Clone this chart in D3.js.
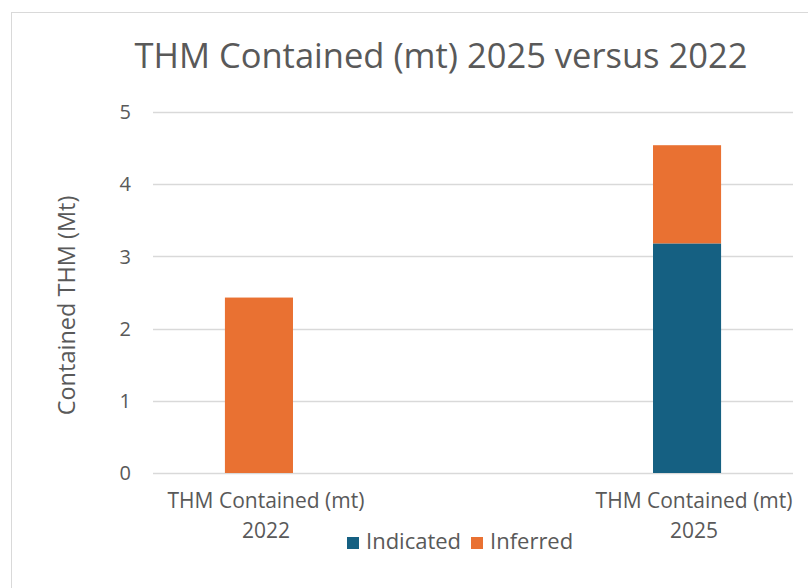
<!DOCTYPE html>
<html>
<head>
<meta charset="utf-8">
<script src="https://cdn.jsdelivr.net/npm/d3@7"></script>
<style>
  body { margin: 0; background: #fff; }
  text { font-family: "Open Sans", "Noto Sans", sans-serif; fill: #595959; }
</style>
</head>
<body>
<div id="chart"></div>
<script>
// data
const categories = ["THM Contained (mt) 2022", "THM Contained (mt) 2025"];
const seriesNames = ["Indicated", "Inferred"];
const indicated = [0, 3.18];
const inferred = [2.43, 1.36];
const yTicks = [0, 1, 2, 3, 4, 5];
const colors = ["#156082", "#E97132"];

const w = 808, h = 588;
const margin = {top: 112, right: 15, bottom: 115, left: 153};

const svg = d3.select("#chart")
  .append("svg")
  .attr("width", w)
  .attr("height", h);

// chart frame (runs off right and bottom like the screenshot)
svg.append("rect")
  .attr("x", 11.5).attr("y", 12.5)
  .attr("width", 880).attr("height", 600)
  .attr("fill", "#fff")
  .attr("stroke", "#d9d9d9");

const x = d3.scaleBand()
  .domain(categories)
  .range([margin.left, w - margin.right])
  .paddingInner(0.841)
  .paddingOuter(0.168);

const y = d3.scaleLinear()
  .domain([0, 5])
  .range([h - margin.bottom, margin.top]);

// gridlines
svg.append("g")
  .selectAll("line")
  .data(yTicks)
  .enter()
  .append("line")
  .attr("x1", margin.left)
  .attr("x2", w - margin.right)
  .attr("y1", d => Math.round(y(d)) + 0.5)
  .attr("y2", d => Math.round(y(d)) + 0.5)
  .attr("stroke", "#d9d9d9")
  .attr("stroke-width", 1.3);

// y tick labels
svg.append("g")
  .selectAll("text")
  .data(yTicks)
  .enter()
  .append("text")
  .attr("x", 131)
  .attr("y", d => y(d))
  .attr("dy", "0.36em")
  .attr("text-anchor", "end")
  .attr("font-size", "20px")
  .text(d => d);

// stacked bars
const table = categories.map((c, i) => ({cat: c, Indicated: indicated[i], Inferred: inferred[i]}));
const stacked = d3.stack().keys(seriesNames)(table);

svg.append("g")
  .selectAll("g")
  .data(stacked)
  .enter()
  .append("g")
  .attr("fill", (d, i) => colors[i])
  .selectAll("rect")
  .data(d => d)
  .enter()
  .append("rect")
  .attr("x", d => x(d.data.cat))
  .attr("width", x.bandwidth())
  .attr("y", d => y(d[1]))
  .attr("height", d => y(d[0]) - y(d[1]));

// x category labels, two lines
const xl = svg.append("g")
  .selectAll("text")
  .data(categories)
  .enter()
  .append("text")
  .attr("text-anchor", "middle")
  .attr("font-size", "21px")
  .attr("x", d => x(d) + x.bandwidth() / 2 + 7)
  .attr("y", 508);
xl.append("tspan")
  .attr("x", d => x(d) + x.bandwidth() / 2 + 7)
  .text(d => d.replace(/ \d{4}$/, ""));
xl.append("tspan")
  .attr("x", d => x(d) + x.bandwidth() / 2 + 7)
  .attr("dy", 30)
  .text(d => d.match(/\d{4}$/)[0]);

// y axis title
svg.append("text")
  .attr("transform", "translate(75," + y(2.32) + ") rotate(-90)")
  .attr("text-anchor", "middle")
  .attr("font-size", "23.5px")
  .text("Contained THM (Mt)");

// title
svg.append("text")
  .attr("x", 441)
  .attr("y", 68)
  .attr("text-anchor", "middle")
  .attr("font-size", "34.5px")
  .text("THM Contained (mt) 2025 versus 2022");

// legend
const legendX = [347, 471];
const lg = svg.append("g")
  .selectAll("g")
  .data(seriesNames)
  .enter()
  .append("g")
  .attr("transform", (d, i) => "translate(" + legendX[i] + ",537)");
lg.append("rect")
  .attr("width", 12).attr("height", 12)
  .attr("fill", (d, i) => colors[i]);
lg.append("text")
  .attr("x", 19)
  .attr("y", 12)
  .attr("font-size", "22px")
  .text(d => d);
</script>
</body>
</html>
